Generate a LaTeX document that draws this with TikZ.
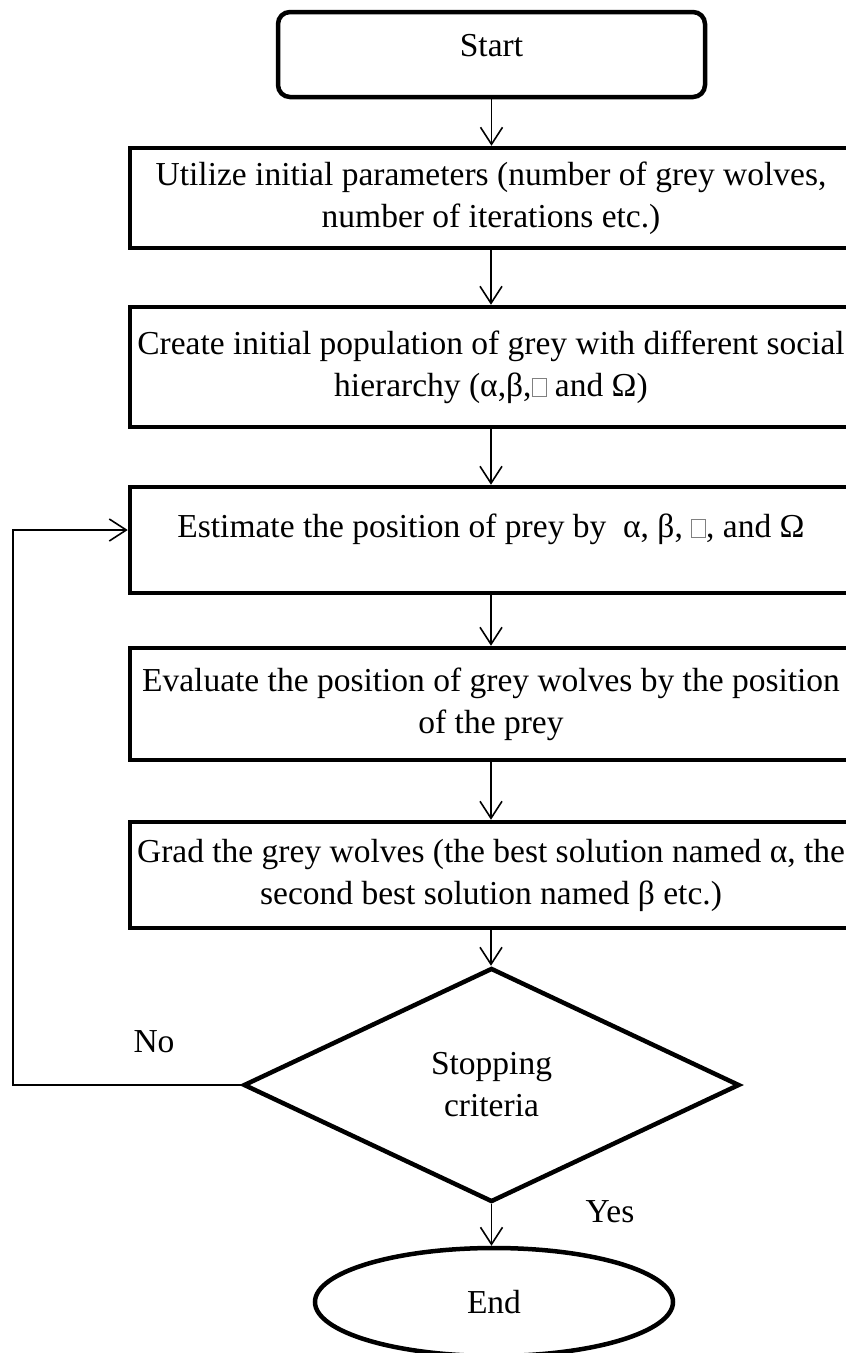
\documentclass[tikz,border=0pt]{standalone}
\usepackage{fontspec}
\setmainfont{Liberation Serif}
\usetikzlibrary{arrows.meta,shapes.geometric}

% hollow placeholder glyph for the missing symbol
\newcommand{\nosym}{\textcolor{gray}{\fboxsep=0pt\fboxrule=1pt\fbox{\rule{0pt}{17pt}\hspace{13pt}}}}

\begin{document}
\begin{tikzpicture}[x=1pt,y=-1pt,
  font=\fontsize{33.5pt}{42pt}\selectfont,
  thick border/.style={draw=black,line width=4.5pt,inner sep=0pt,align=center},
  procbox/.style={thick border,rectangle,minimum width=722pt},
  flowarrow/.style={draw=black,line width=1.6pt,-{Straight Barb[length=17pt,width=22pt,line width=1.6pt]}},
  plain/.style={inner sep=0pt}]
  \useasboundingbox (0,0) rectangle (846,1353);

  % terminal and process boxes
  \node[thick border,rectangle,rounded corners=12pt,minimum width=427pt,minimum height=85pt,text depth=18pt]
    (start) at (491.5,54.5) {Start};
  \node[procbox,minimum height=100pt] (b1) at (491,198)
    {Utilize initial parameters (number of grey wolves,\\ number of iterations etc.)};
  \node[procbox,minimum height=120pt] (b2) at (491,367)
    {Create initial population of grey with different social\\ hierarchy (α,β,\nosym{} and Ω)};
  \node[procbox,minimum height=106pt,text depth=29pt] (b3) at (491,540)
    {Estimate the position of prey by\ \ α, β, \nosym, and Ω};
  \node[procbox,minimum height=112pt] (b4) at (491,704)
    {Evaluate the position of grey wolves by the position\\ of the prey};
  \node[procbox,minimum height=106pt] (b5) at (491,875)
    {Grad the grey wolves (the best solution named α, the\\ second best solution named β etc.)};

  % decision and end
  \node[thick border,diamond,minimum width=496pt,minimum height=234pt] (dec) at (491.5,1085)
    {Stopping\\ criteria};
  \node[thick border,ellipse,minimum width=358pt,minimum height=108pt] (end) at (494,1302) {End};

  % branch labels
  \node[plain] (nolab) at (154,1042) {No};
  \node[plain] (yeslab) at (610,1212) {Yes};

  % main flow
  \draw[flowarrow] (start.south) -- (start.south |- b1.north);
  \draw[flowarrow] (b1.south) -- (b2.north);
  \draw[flowarrow] (b2.south) -- (b3.north);
  \draw[flowarrow] (b3.south) -- (b4.north);
  \draw[flowarrow] (b4.south) -- (b5.north);
  \draw[flowarrow] (b5.south) -- (b5.south |- dec.north);
  \draw[flowarrow] (dec.south) -- (dec.south |- end.north);

  % feedback loop for "No"
  \coordinate (loopx) at (13,0);
  \draw[flowarrow] (dec.west) -- (dec.west -| loopx) |- ([yshift=10pt]b3.west);
\end{tikzpicture}
\end{document}
